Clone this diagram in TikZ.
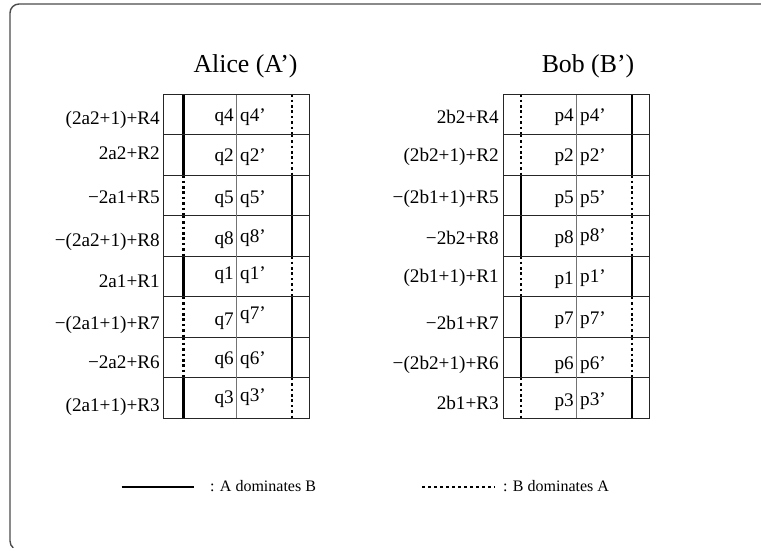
\documentclass[tikz,border=0pt]{standalone}
\usepackage{fontspec}
\setmainfont{Liberation Serif}
\begin{document}
\begin{tikzpicture}[x=1pt,y=-1pt,
  txt/.style={inner sep=0pt,font=\fontsize{19.2}{21}\selectfont},
  lbl/.style={txt,anchor=base east},
  cella/.style={txt,anchor=base east},
  cellb/.style={txt,anchor=base west},
  ttl/.style={inner sep=0pt,anchor=base,font=\fontsize{25.8}{28}\selectfont},
  leg/.style={inner sep=0pt,anchor=base west,font=\fontsize{16}{18}\selectfont},
  strong/.style={line width=2.8pt},
  weak/.style={line width=2.8pt,dash pattern=on 2.6pt off 2.8pt},
  rule/.style={line width=0.9pt,black!85},
  midrule/.style={line width=0.8pt,black!55},
  border/.style={line width=1.4pt,black!70}]
\useasboundingbox (0,0) rectangle (761,548);
% outer frame, running off the right and bottom edges
\draw[border] (761,4) -- (19,4) arc[start angle=270,end angle=180,radius=9]
  -- (10,541) arc[start angle=180,end angle=130,radius=9];

% titles
\node[ttl] (ta) at (245.5,73) {Alice (A’)};
\node[ttl] (tb) at (588,73) {Bob (B’)};

% Alice's table: row label, baselines, cell texts, left and right markers
\foreach \i/\lab/\lb/\qa/\ya/\qb/\yb/\L/\R in {
  0/{(2a2+1)+R4}/125/q4/121.7/q4’/121.7/strong/weak,
  1/{2a2+R2}/160/q2/161.7/q2’/161.7/strong/weak,
  2/{−2a1+R5}/204/q5/203.3/q5’/203.3/weak/strong,
  3/{−(2a2+1)+R8}/246.7/q8/245/q8’/242.3/weak/strong,
  4/{2a1+R1}/288/q1/280/q1’/280/strong/weak,
  5/{−(2a1+1)+R7}/330/q7/326/q7’/319.3/weak/strong,
  6/{−2a2+R6}/368/q6/364/q6’/364/weak/strong,
  7/{(2a1+1)+R3}/411.7/q3/403.3/q3’/401/strong/weak}{
  \node[lbl] (al\i) at (160,\lb) {\lab};
  \node[cella] (aq\i) at (234,\ya) {\qa};
  \node[cellb] (ap\i) at (240,\yb) {\qb};
  \draw[\L] (183.5,{94.3+40.5*\i}) -- ++(0,40.5);
  \draw[\R] (292,{94.3+40.5*\i}) -- ++(0,40.5);
}
\foreach \i in {1,...,7}{
  \draw[rule] (163.3,{94.3+40.5*\i}) -- (309.3,{94.3+40.5*\i});
}
\draw[midrule] (236.7,94.3) -- (236.7,418.3);
\draw[rule] (163.3,94.3) rectangle (309.3,418.3);

% Bob's table
\foreach \i/\lab/\lb/\qa/\ya/\qb/\yb/\L/\R in {
  0/{2b2+R4}/124/p4/121.7/p4’/121.7/weak/strong,
  1/{(2b2+1)+R2}/161.7/p2/161.3/p2’/161.3/weak/strong,
  2/{−(2b1+1)+R5}/204/p5/203.3/p5’/203.3/strong/weak,
  3/{−2b2+R8}/245/p8/243.3/p8’/241.7/strong/weak,
  4/{(2b1+1)+R1}/283/p1/285/p1’/282.3/weak/strong,
  5/{−2b1+R7}/330/p7/325/p7’/325/strong/weak,
  6/{−(2b2+1)+R6}/369/p6/369.3/p6’/369.3/strong/weak,
  7/{2b1+R3}/409/p3/406.7/p3’/405/weak/strong}{
  \node[lbl] (bl\i) at (499,\lb) {\lab};
  \node[cella] (bq\i) at (574,\ya) {\qa};
  \node[cellb] (bp\i) at (580,\yb) {\qb};
  \draw[\L] (521,{94.3+40.5*\i}) -- ++(0,40.5);
  \draw[\R] (632,{94.3+40.5*\i}) -- ++(0,40.5);
}
\foreach \i in {1,...,7}{
  \draw[rule] (503.3,{94.3+40.5*\i}) -- (649.3,{94.3+40.5*\i});
}
\draw[midrule] (576.7,94.3) -- (576.7,418.3);
\draw[rule] (503.3,94.3) rectangle (649.3,418.3);

% legend
\coordinate (s0) at (121.7,487);
\coordinate (s1) at (194,487);
\draw[strong] (s0) -- (s1);
\node[leg] (ls) at (210,491) {: A dominates B};
\coordinate (d0) at (422,487);
\coordinate (d1) at (495,487);
\draw[line width=2.8pt,dash pattern=on 2.8pt off 3.2pt] (d0) -- (d1);
\node[leg] (ld) at (503,491) {: B dominates A};
\end{tikzpicture}
\end{document}
